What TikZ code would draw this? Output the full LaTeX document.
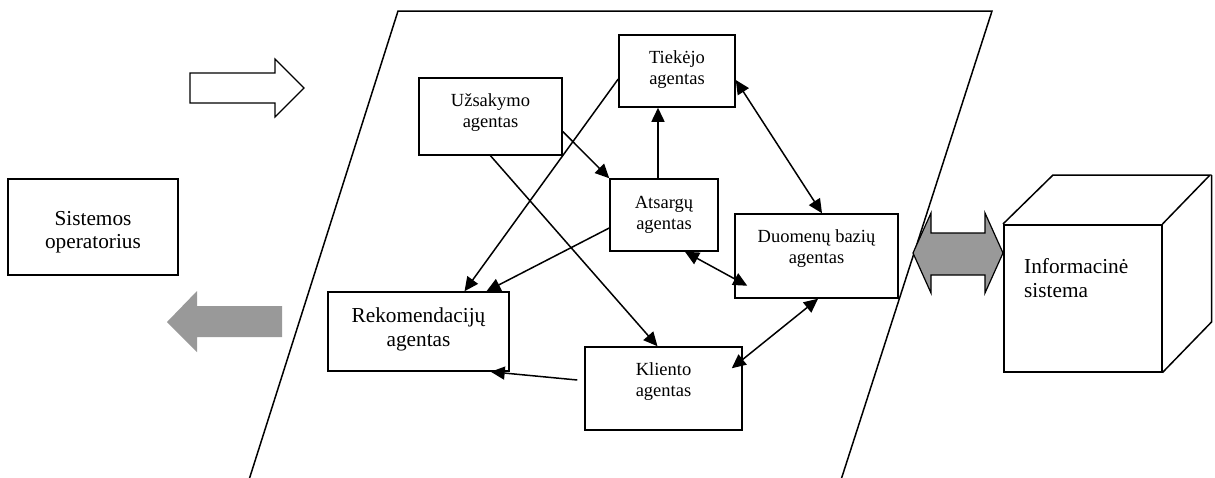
\documentclass[tikz,border=0pt]{standalone}
\usepackage{fontspec}
\setmainfont{Liberation Serif}
\usetikzlibrary{arrows.meta}
\definecolor{arrowgray}{RGB}{153,153,153}
\newcommand\agentfont{\fontsize{18.5pt}{21pt}\selectfont}
\newcommand\largefont{\fontsize{21.3pt}{24pt}\selectfont}
\newcommand\twolines[2]{\begin{tabular}[t]{@{}c@{}}#1\\#2\end{tabular}}
\begin{document}
\begin{tikzpicture}[x=1pt,y=-1pt,
  box/.style={draw, line width=1.5pt, inner sep=0pt, font=\agentfont},
  link/.style={line width=1.5pt, -{Triangle[length=14pt,width=13pt]}},
  dlink/.style={line width=1.5pt, {Triangle[length=14pt,width=13pt]}-{Triangle[length=14pt,width=13pt]}}]
\useasboundingbox (0,0) rectangle (1215,477);

% system boundary (parallelogram, open at the bottom)
\draw[line width=1.5pt] (248,483) -- (398,11) -- (992,11) -- (840,483);

% agents
\node[box, minimum width=116pt, text height=28pt, text depth=44pt] (tiek) at (677,71) {\twolines{Tiekėjo}{agentas}};
\node[box, minimum width=143pt, text height=28pt, text depth=49pt] (uzs) at (490.5,116.5) {\twolines{Užsakymo}{agentas}};
\node[box, minimum width=108pt, text height=29pt, text depth=43pt] (ats) at (664,215) {\twolines{Atsargų}{agentas}};
\node[box, minimum width=163pt, text height=28pt, text depth=56pt] (duom) at (816.5,256) {\twolines{Duomenų bazių}{agentas}};
\node[box, font=\largefont, minimum width=181pt, text height=30pt, text depth=49pt] (rek) at (418.5,331.5) {\twolines{Rekomendacijų}{agentas}};
\node[box, minimum width=157pt, text height=28pt, text depth=55pt] (klient) at (663.5,388.5) {\twolines{Kliento}{agentas}};

% operator
\node[box, font=\fontsize{21.3pt}{23pt}\selectfont, minimum width=170pt, text height=46pt, text depth=50pt] (sist) at (93,227) {\twolines{Sistemos}{operatorius}};

% connectors between agents
\draw[link] ([shift={(0,15)}]uzs.east) -- (ats.north west);
\draw[link] ([xshift=-6pt]ats.north) -- ([xshift=-6pt]ats.north |- tiek.south);
\draw[dlink] ([shift={(0,9)}]tiek.east) -- ([xshift=5.5pt]duom.north);
\draw[link] ([shift={(0,8)}]tiek.west) -- ([xshift=46pt]rek.north);
\draw[link] (uzs.south) -- ([xshift=-6pt]klient.north);
\draw[link] ([shift={(0,13)}]ats.west) -- ([xshift=68pt]rek.north);
\draw[dlink] ([xshift=21pt]ats.south) -- ([shift={(13,-13)}]duom.south west);
\draw[dlink] ([xshift=1.5pt]duom.south) -- ([shift={(-11,22)}]klient.north east);
\draw[link] ([shift={(-7,-8.5)}]klient.west) -- ([xshift=-19pt]rek.south east);

% block arrows towards and from the operator
\draw[line width=1.2pt, fill=white] (190,73) -- (275,73) -- (275,59) -- (304,88) -- (275,117) -- (275,103) -- (190,103) -- cycle;
\fill[arrowgray] (282,306) -- (197,306) -- (197,291) -- (167,322) -- (197,352) -- (197,337) -- (282,337) -- cycle;

% exchange with the information system
\draw[line width=1.2pt, fill=arrowgray] (913,253) -- (931,213) -- (931,233) -- (985,233) -- (985,213) -- (1003,253)
  -- (985,293) -- (985,275) -- (931,275) -- (931,293) -- cycle;

% information system cube
\node[draw, line width=1.5pt, minimum width=158pt, minimum height=147pt, inner sep=0pt, anchor=north west] (info) at (1003,224) {};
\draw[line width=1.5pt] (info.north west) -- ++(50,-49) -- ++(157,0) -- (info.north east);
\draw[line width=1.5pt] (info.north east) ++(49,-49) -- ++(0,147) -- (info.south east);
\node[font=\largefont, inner sep=0pt, anchor=base west] (infotext) at (1024,273) {\begin{tabular}[t]{@{}l@{}}Informacinė\\sistema\end{tabular}};
\end{tikzpicture}
\end{document}
